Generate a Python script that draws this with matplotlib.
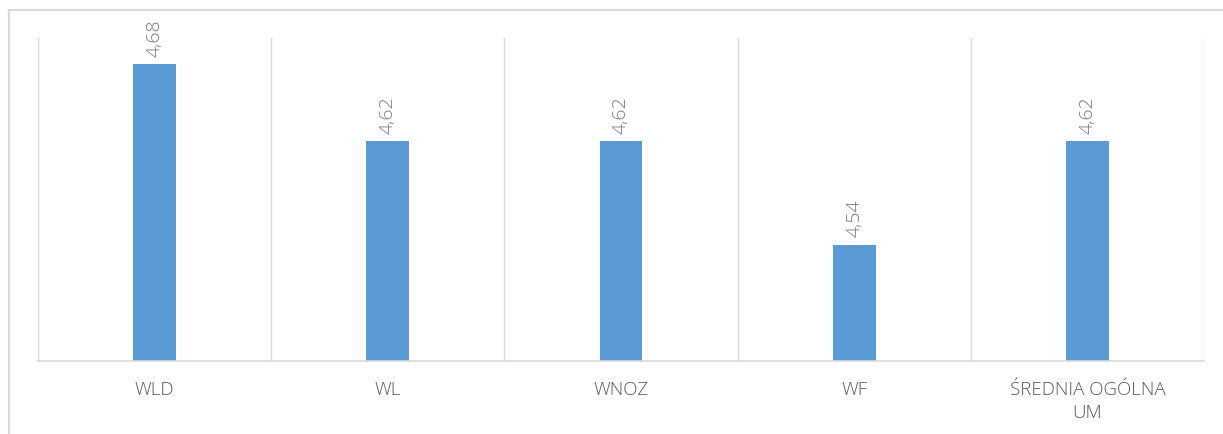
import numpy as np
import matplotlib
matplotlib.use('Agg')
import matplotlib.pyplot as plt
from matplotlib.lines import Line2D

categories = ['WLD', 'WL', 'WNOZ', 'WF', 'ŚREDNIA OGÓLNA\nUM']
values = [4.68, 4.62, 4.62, 4.54, 4.62]
value_labels = ['4,68', '4,62', '4,62', '4,54', '4,62']

plt.rcParams['font.family'] = ['Open Sans', 'DejaVu Sans']
grey = '#595959'
light = '#D9D9D9'

fig = plt.figure(figsize=(12.23, 4.35), dpi=100)
ax = fig.add_axes([38 / 1223, 1 - 362 / 435, (1204 - 38) / 1223, (362 - 39) / 435])

x = np.arange(len(categories))
ax.bar(x, values, width=0.183, color='#5B9BD5', zorder=2)

ax.set_xlim(-0.5, len(categories) - 0.5)
ax.set_ylim(4.45, 4.70)
ax.set_yticks([])

# category separators
ax.set_xticks(x)
ax.set_xticks(np.arange(-0.5, len(categories)), minor=True)
ax.grid(True, which='minor', axis='x', color=light, linewidth=1, zorder=0)
ax.tick_params(axis='x', which='both', length=0)
ax.set_xticklabels(categories, fontsize=13.5, color=grey, linespacing=1.3,
                   fontweight='light')
ax.tick_params(axis='x', pad=14)

for s in ['top', 'left', 'right']:
    ax.spines[s].set_visible(False)
ax.spines['bottom'].set_color(light)
ax.spines['bottom'].set_linewidth(1.2)

for xi, v, lab in zip(x, values, value_labels):
    ax.annotate(lab, (xi, v), xytext=(0, 6), textcoords='offset points',
                rotation=90, ha='center', va='bottom', fontsize=14,
                color='#7a7a7a', fontweight='light')

# outer chart frame (top and left edges visible)
fig.add_artist(Line2D([8.5 / 1223, 1.0], [1 - 10.5 / 435] * 2, color=light, lw=1.5,
                      transform=fig.transFigure))
fig.add_artist(Line2D([8.5 / 1223] * 2, [0, 1 - 10.5 / 435], color=light, lw=1.5,
                      transform=fig.transFigure))

fig.savefig('out.png', dpi=100)
